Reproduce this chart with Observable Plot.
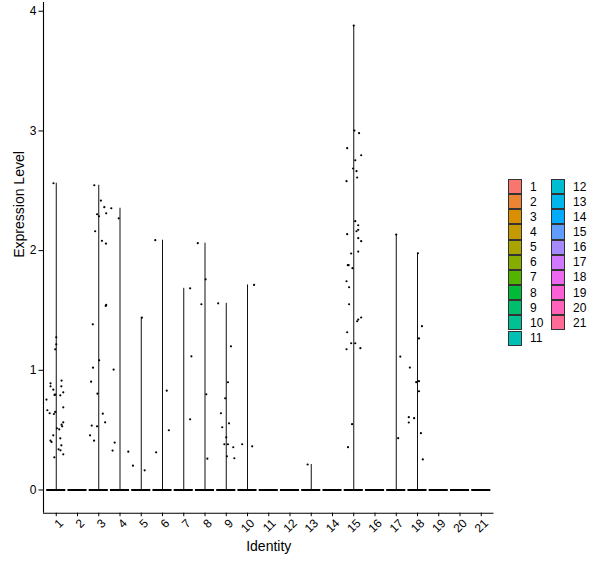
<!DOCTYPE html>
<html>
<head>
<meta charset="utf-8">
<script src="https://cdn.jsdelivr.net/npm/d3@7"></script>
<script src="https://cdn.jsdelivr.net/npm/@observablehq/plot@0.6"></script>
<style>
  html, body { margin: 0; padding: 0; background: #fff; }
  #wrap { position: relative; width: 600px; height: 568px; font-family: Arial, "Liberation Sans", sans-serif; }
  #legend { position: absolute; left: 0; top: 0; }
  .key { position: absolute; width: 14px; height: 15.15px; box-sizing: border-box; border: 1px solid #333; }
  .lab { position: absolute; font-size: 12px; line-height: 15px; color: #000; }
</style>
</head>
<body>
<div id="wrap"><div id="chart"></div><div id="legend"></div></div>
<script>
// Identities (clusters) on the x axis
const identities = [1,2,3,4,5,6,7,8,9,10,11,12,13,14,15,16,17,18,19,20,21];
const yTicks = [0, 1, 2, 3, 4];

// Non-zero expression values: [identity, value, jitter (in band units)]
const points = [
  // 1
  [1,2.563,-0.13],[1,1.276,0],[1,1.217,0],[1,1.175,-0.05],[1,0.755,-0.46],[1,0.891,-0.27],[1,0.866,-0.27],
  [1,0.838,-0.14],[1,0.794,-0.08],[1,0.797,-0.05],[1,0.666,-0.42],[1,0.641,-0.31],[1,0.635,-0.11],[1,0.652,-0.05],
  [1,0.914,0.25],[1,0.866,0.24],[1,0.816,0.33],[1,0.791,0.19],[1,0.691,0.33],[1,0.515,0.03],[1,0.507,0.14],
  [1,0.546,0.25],[1,0.532,0.28],[1,0.565,0.33],[1,0.457,-0.14],[1,0.432,0.19],[1,0.412,-0.27],[1,0.401,-0.22],
  [1,0.373,0.24],[1,0.340,0.11],[1,0.331,0.20],[1,0.298,0.33],[1,0.273,-0.09],
  // 3
  [3,2.546,-0.21],[3,2.418,0.10],[3,2.363,0.26],[3,2.312,0.35],[3,2.304,-0.08],[3,2.287,0.01],[3,2.162,-0.17],
  [3,2.082,0.15],[3,2.059,0.34],[3,1.384,-0.28],[3,1.084,0.02],[3,1.022,-0.27],[3,0.905,-0.36],[3,0.805,-0.06],
  [3,1.546,0.35],[3,1.538,0.33],[3,0.638,0.19],[3,0.565,0.30],[3,0.532,-0.08],[3,0.538,-0.33],[3,0.457,-0.41],
  [3,0.412,-0.22],
  // 4
  [4,2.354,-0.41],[4,2.27,-0.06],[4,1.006,-0.30],[4,0.396,-0.25],[4,0.329,-0.35],[4,0.320,0.39],
  // 5
  [5,1.440,0.03],[5,0.203,-0.39],[5,0.164,0.16],
  // 6
  [6,2.087,-0.34],[6,0.315,-0.30],[6,0.830,0.20],[6,0.499,0.30],
  // 7
  [7,1.685,0.30],[7,1.117,0.36],[7,0.590,0.30],
  // 8
  [8,2.062,-0.34],[8,1.760,0.03],[8,1.552,-0.17],[8,0.800,0.06],[8,0.262,0.11],
  // 9
  [9,1.560,-0.38],[9,1.200,0.22],[9,0.900,0.08],[9,0.766,-0.05],[9,0.641,-0.25],[9,0.524,-0.19],[9,0.557,0.13],
  [9,0.440,0],[9,0.382,-0.09],[9,0.382,0.08],[9,0.357,0.33],[9,0.281,0.03],[9,0.265,0.38],
  // 10
  [10,1.713,0.31],[10,0.382,-0.25],[10,0.365,0.22],
  // 13
  [13,0.213,-0.17],
  // 15
  [15,3.88,0],[15,3.003,0.03],[15,2.981,0.25],[15,2.856,-0.31],[15,2.797,0.35],[15,2.755,0.07],[15,2.686,-0.03],
  [15,2.664,0.13],[15,2.580,-0.34],[15,2.611,0.16],[15,2.246,0.07],[15,2.212,0.21],[15,2.174,0.21],[15,2.162,0.13],
  [15,2.137,-0.31],[15,2.104,0.21],[15,2.079,0.35],[15,1.992,0.21],[15,1.976,-0.12],[15,1.878,-0.28],[15,1.878,-0.24],
  [15,1.853,-0.06],[15,1.744,-0.34],[15,1.694,-0.22],[15,1.552,-0.22],[15,1.441,0.35],[15,1.424,0.21],[15,1.410,0.16],
  [15,1.318,-0.31],[15,1.226,-0.12],[15,1.226,0.07],[15,1.176,-0.34],[15,1.185,0.31],[15,0.550,-0.08],[15,0.358,-0.27],
  // 17
  [17,2.134,0],[17,1.115,0.19],[17,0.433,0.09],
  // 18
  [18,1.978,0.02],[18,1.369,0.21],[18,1.266,0.07],[18,1.023,-0.36],[18,0.901,-0.06],[18,0.909,0.07],[18,0.825,0.07],
  [18,0.608,-0.41],[18,0.600,-0.16],[18,0.564,-0.41],[18,0.475,0.16],[18,0.255,0.25]
];

// ggplot2 default hue palette (polar LUV, c=100, l=65)
function hueColor(h, c = 100, l = 65) {
  const hr = h * Math.PI / 180;
  const U = c * Math.cos(hr), V = c * Math.sin(hr);
  const Xn = 95.047, Yn = 100, Zn = 108.883;
  const Y = Yn * (l > 7.999592 ? Math.pow((l + 16) / 116, 3) : l / 903.3);
  const den = Xn + 15 * Yn + 3 * Zn;
  const un = 4 * Xn / den, vn = 9 * Yn / den;
  const u = U / (13 * l) + un, v = V / (13 * l) + vn;
  const X = 9 * Y * u / (4 * v);
  const Z = -X / 3 - 5 * Y + 3 * Y / v;
  const x = X / 100, y = Y / 100, z = Z / 100;
  let r = 3.240479 * x - 1.537150 * y - 0.498535 * z;
  let g = -0.969256 * x + 1.875992 * y + 0.041556 * z;
  let b = 0.055648 * x - 0.204043 * y + 1.057311 * z;
  const gam = t => t <= 0.0031308 ? 12.92 * t : 1.055 * Math.pow(t, 1 / 2.4) - 0.055;
  const cl = t => Math.max(0, Math.min(1, gam(t)));
  return d3.rgb(cl(r) * 255, cl(g) * 255, cl(b) * 255).formatHex();
}
const n = identities.length;
const colors = identities.map((d, i) => hueColor(15 + i * 360 / n));

const vmax = d3.max(points, d => d[1]);
const yDom = [-0.05 * vmax, vmax * 1.05];
const xDom = [identities[0] - 0.6, identities[n - 1] + 0.6];

const maxByCluster = d3.rollups(points, v => d3.max(v, d => d[1]), d => d[0]).map(([k, m]) => ({k, m}));

const chart = Plot.plot({
  width: 600, height: 568,
  marginLeft: 43, marginRight: 106.5, marginTop: 1.9, marginBottom: 55.3,
  x: {domain: xDom, axis: null},
  y: {domain: yDom, axis: null},
  style: {fontFamily: 'Arial, "Liberation Sans", sans-serif', background: "white", color: "black"},
  marks: [
    Plot.ruleY(identities, {x1: d => d - 0.45, x2: d => d + 0.45, y: 0, stroke: "black", strokeWidth: 2}),
    Plot.ruleX(maxByCluster, {x: "k", y1: 0, y2: "m", stroke: "#111", strokeWidth: 1}),
    Plot.dot(points, {x: d => d[0] + d[2], y: d => d[1], r: 1.1, fill: "black"}),
    Plot.ruleX([xDom[0]], {y1: yDom[0], y2: yDom[1], stroke: "black", strokeWidth: 1.1}),
    Plot.ruleY([yDom[0]], {x1: xDom[0], x2: xDom[1], stroke: "black", strokeWidth: 1.1}),
    Plot.axisY({ticks: yTicks, tickSize: 4.5, tickPadding: 2.5, fontSize: 12, label: null, tickFormat: d => String(d)}),
    Plot.axisX({ticks: identities, tickSize: 3.5, fontSize: 12, label: null, tickFormat: () => ""}),
    Plot.axisX({ticks: identities, tickSize: 0, tickPadding: 7, tickRotate: -45, dx: 5, dy: 1, fontSize: 12, label: null, tickFormat: d => String(d)}),
    Plot.text(["Expression Level"], {frameAnchor: "left", dx: -24, rotate: -90, fontSize: 14}),
    Plot.text(["Identity"], {frameAnchor: "bottom", dy: 38, fontSize: 14})
  ]
});
document.getElementById("chart").appendChild(chart);

// Legend (two columns: 11 + 10)
const leg = document.getElementById("legend");
identities.forEach((d, i) => {
  const col = i < 11 ? 0 : 1;
  const row = i < 11 ? i : i - 11;
  const left = 508 + col * 43;
  const top = 179 + row * 15.15;
  const key = document.createElement("div");
  key.className = "key";
  key.style.left = left + "px";
  key.style.top = top + "px";
  key.style.background = colors[i];
  leg.appendChild(key);
  const lab = document.createElement("div");
  lab.className = "lab";
  lab.style.left = (left + 22) + "px";
  lab.style.top = (top + 0.5) + "px";
  lab.textContent = String(d);
  leg.appendChild(lab);
});
</script>
</body>
</html>
